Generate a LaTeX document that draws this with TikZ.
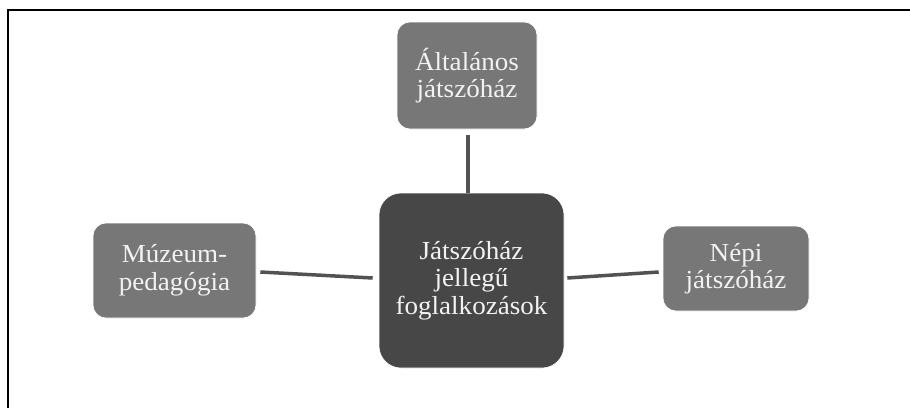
\documentclass[tikz,border=0pt]{standalone}
\usepackage{fontspec}
\newfontfamily\boxfont[FakeStretch=1.04]{Liberation Serif}
\definecolor{hubfill}{HTML}{474747}
\definecolor{leaffill}{HTML}{777777}
\definecolor{linkcol}{HTML}{525252}
\definecolor{txtcol}{HTML}{F2F2F2}
\tikzset{
  leaf/.style={draw=white, line width=0.6pt, fill=leaffill, rounded corners=13pt, text=txtcol, align=center, inner sep=0pt,
    font=\boxfont\fontsize{26}{27.5}\selectfont},
  hub/.style={leaf, fill=hubfill, rounded corners=22pt},
  link/.style={draw=linkcol, line width=3.5pt},
  frame/.style={draw=black, line width=2pt}
}
\begin{document}
\begin{tikzpicture}[x=1pt,y=-1pt]
\useasboundingbox (0,0) rectangle (910,408);
\coordinate (fa) at (7.5,408);
\coordinate (fb) at (7.5,10);
\coordinate (fc) at (912,10);
\draw[frame] (fa) -- (fb) -- (fc);
\node[hub, minimum width=185pt, minimum height=175pt] (C) at (471.5,280.5) {Játszóház\\jellegű\\foglalkozások};
\node[leaf, minimum width=140pt, minimum height=107pt] (T) at (467,75.5) {Általános\\játszóház};
\node[leaf, minimum width=163pt, minimum height=95pt] (L) at (174.5,270.5) {Múzeum-\\pedagógia};
\node[leaf, minimum width=146pt, minimum height=85pt] (R) at (736,268.5) {Népi\\játszóház};
\draw[link] ([xshift=1pt,yshift=-6pt]T.south) -- ([xshift=1pt]T.south |- C.north);
\draw[link] ([xshift=4pt,yshift=-1.5pt]L.east) -- ([xshift=-6pt,yshift=2.5pt]C.west);
\draw[link] ([xshift=3pt,yshift=2.5pt]C.east) -- ([xshift=-4pt,yshift=-3.5pt]R.west);
\end{tikzpicture}
\end{document}
